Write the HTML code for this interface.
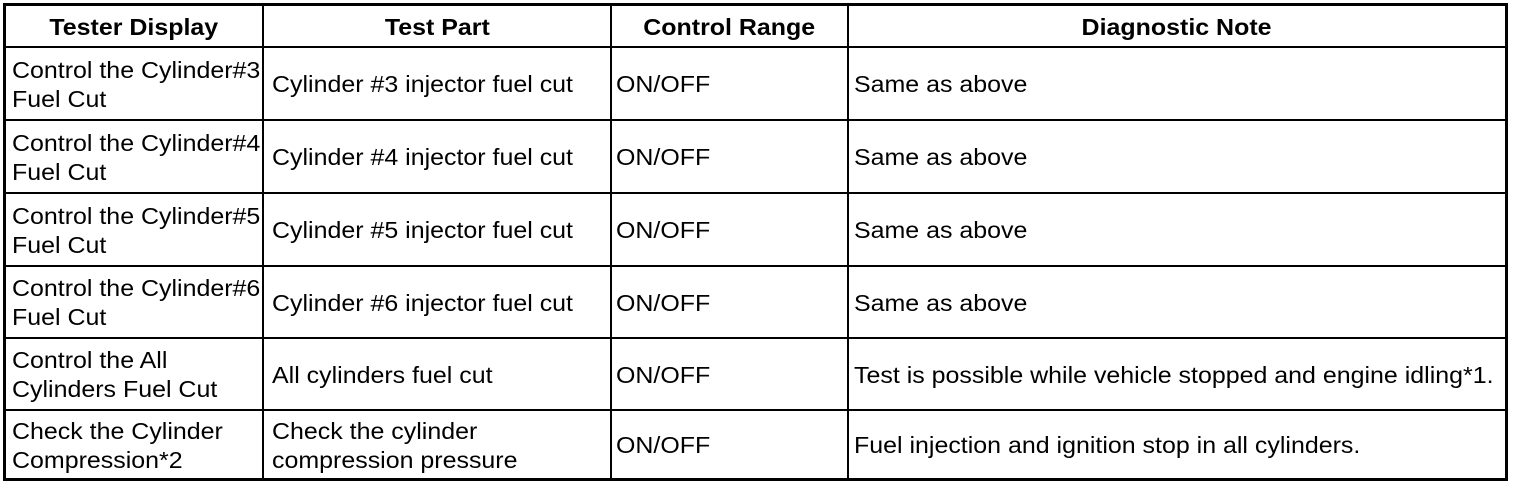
<!DOCTYPE html>
<html><head><meta charset="utf-8"><style>
body{margin:0;width:1520px;height:490px;background:#fff;overflow:hidden;font-family:"Liberation Sans",Arial,sans-serif;color:#000}
.h{position:absolute;background:#000}
.c{position:absolute;display:flex;align-items:center;font-size:23px;line-height:29px;white-space:nowrap;padding-top:2px;box-sizing:border-box}
.c span{display:inline-block;transform:scaleX(1.085);transform-origin:left center}
.b{font-weight:bold;justify-content:center}
.b span{transform-origin:center center}
</style></head><body>
<div class="h" style="left:3px;top:3px;width:1505px;height:3px"></div>
<div class="h" style="left:3px;top:478px;width:1505px;height:3px"></div>
<div class="h" style="left:3px;top:3px;width:3px;height:478px"></div>
<div class="h" style="left:1505px;top:3px;width:3px;height:478px"></div>
<div class="h" style="left:262px;top:3px;width:2px;height:478px"></div>
<div class="h" style="left:610px;top:3px;width:2px;height:478px"></div>
<div class="h" style="left:847px;top:3px;width:2px;height:478px"></div>
<div class="h" style="left:3px;top:46px;width:1505px;height:2px"></div>
<div class="h" style="left:3px;top:119px;width:1505px;height:2px"></div>
<div class="h" style="left:3px;top:192px;width:1505px;height:2px"></div>
<div class="h" style="left:3px;top:265px;width:1505px;height:2px"></div>
<div class="h" style="left:3px;top:337px;width:1505px;height:2px"></div>
<div class="h" style="left:3px;top:409px;width:1505px;height:2px"></div>

<div class="c b" style="left:6px;top:6px;width:256px;height:40px"><span>Tester Display</span></div>
<div class="c b" style="left:264px;top:6px;width:346px;height:40px"><span>Test Part</span></div>
<div class="c b" style="left:612px;top:6px;width:235px;height:40px"><span>Control Range</span></div>
<div class="c b" style="left:849px;top:6px;width:656px;height:40px"><span>Diagnostic Note</span></div>

<div class="c" style="left:12px;top:48px;height:71px"><span>Control the Cylinder#3<br>Fuel Cut</span></div>
<div class="c" style="left:272px;top:48px;height:71px"><span>Cylinder #3 injector fuel cut</span></div>
<div class="c" style="left:616px;top:48px;height:71px"><span>ON/OFF</span></div>
<div class="c" style="left:854px;top:48px;height:71px"><span>Same as above</span></div>

<div class="c" style="left:12px;top:121px;height:71px"><span>Control the Cylinder#4<br>Fuel Cut</span></div>
<div class="c" style="left:272px;top:121px;height:71px"><span>Cylinder #4 injector fuel cut</span></div>
<div class="c" style="left:616px;top:121px;height:71px"><span>ON/OFF</span></div>
<div class="c" style="left:854px;top:121px;height:71px"><span>Same as above</span></div>

<div class="c" style="left:12px;top:194px;height:71px"><span>Control the Cylinder#5<br>Fuel Cut</span></div>
<div class="c" style="left:272px;top:194px;height:71px"><span>Cylinder #5 injector fuel cut</span></div>
<div class="c" style="left:616px;top:194px;height:71px"><span>ON/OFF</span></div>
<div class="c" style="left:854px;top:194px;height:71px"><span>Same as above</span></div>

<div class="c" style="left:12px;top:267px;height:70px"><span>Control the Cylinder#6<br>Fuel Cut</span></div>
<div class="c" style="left:272px;top:267px;height:70px"><span>Cylinder #6 injector fuel cut</span></div>
<div class="c" style="left:616px;top:267px;height:70px"><span>ON/OFF</span></div>
<div class="c" style="left:854px;top:267px;height:70px"><span>Same as above</span></div>

<div class="c" style="left:12px;top:339px;height:70px"><span>Control the All<br>Cylinders Fuel Cut</span></div>
<div class="c" style="left:272px;top:339px;height:70px"><span>All cylinders fuel cut</span></div>
<div class="c" style="left:616px;top:339px;height:70px"><span>ON/OFF</span></div>
<div class="c" style="left:854px;top:339px;height:70px"><span>Test is possible while vehicle stopped and engine idling*1.</span></div>

<div class="c" style="left:12px;top:411px;height:67px"><span>Check the Cylinder<br>Compression*2</span></div>
<div class="c" style="left:272px;top:411px;height:67px"><span>Check the cylinder<br>compression pressure</span></div>
<div class="c" style="left:616px;top:411px;height:67px"><span>ON/OFF</span></div>
<div class="c" style="left:854px;top:411px;height:67px"><span>Fuel injection and ignition stop in all cylinders.</span></div>
</body></html>
